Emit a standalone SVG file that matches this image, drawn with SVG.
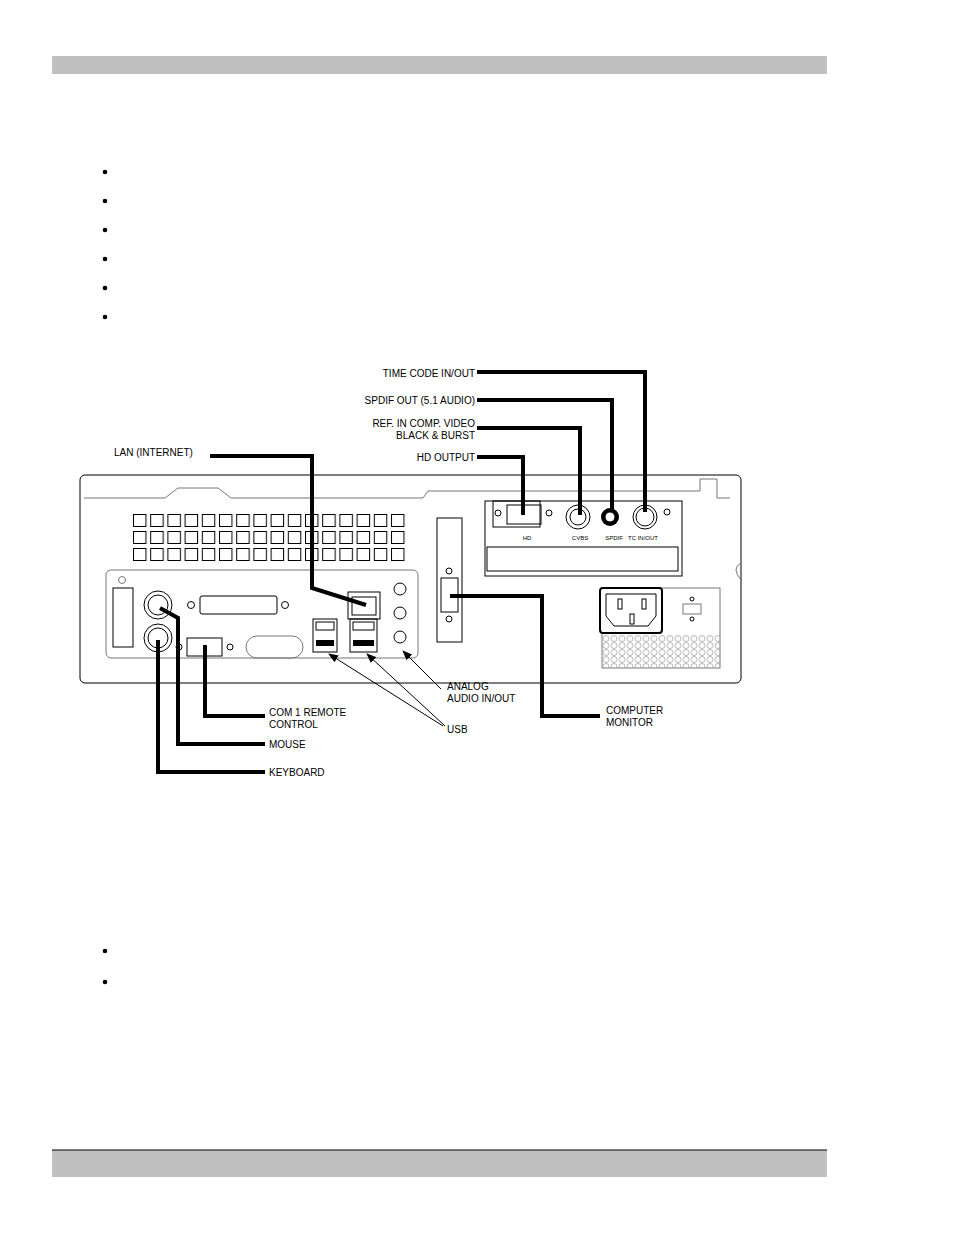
<svg xmlns="http://www.w3.org/2000/svg" width="954" height="1235" viewBox="0 0 954 1235">
<style>
text{font-family:"Liberation Sans",Arial,sans-serif;font-size:10px;fill:#000}
.s{font-size:6px}
.o{fill:none;stroke:#000;stroke-width:1}
.g{fill:none;stroke:#777;stroke-width:1}
.w{fill:none;stroke:#000;stroke-width:4}
.t{fill:none;stroke:#000;stroke-width:1}
</style>
<defs>
<marker id="a" markerWidth="10" markerHeight="8" refX="9" refY="4" orient="auto" markerUnits="userSpaceOnUse"><path d="M0,0 L10,4 L0,8 z" fill="#000"/></marker>
<pattern id="vent" width="17.2" height="17" patternUnits="userSpaceOnUse" x="133" y="514"><rect x="0.5" y="0.5" width="12.5" height="12" fill="#fff" stroke="#000"/></pattern>
<pattern id="holes" width="8" height="7" patternUnits="userSpaceOnUse" x="602" y="635"><circle cx="4" cy="3.5" r="3" fill="none" stroke="#999" stroke-width="0.7"/></pattern>
</defs>
<rect x="52" y="56" width="775" height="18" fill="#c0c0c0"/>
<rect x="52" y="1150" width="775" height="27" fill="#c0c0c0"/>
<line x1="52" y1="1150" x2="827" y2="1150" stroke="#000"/>
<g id="bullets" fill="#000">
<circle cx="105" cy="172" r="2.3"/><circle cx="105" cy="201" r="2.3"/><circle cx="105" cy="230" r="2.3"/><circle cx="105" cy="259" r="2.3"/><circle cx="105" cy="288" r="2.3"/><circle cx="105" cy="317" r="2.3"/><circle cx="105" cy="951" r="2.3"/><circle cx="105" cy="982" r="2.3"/>
</g>
<g id="chassis">
<rect x="80" y="475" width="661" height="208" rx="5" class="o"/>
<path d="M84,498 H165 L178,488 H218 L231,498 H423 L428,491 H700 V479 H717 V498 H730" class="g"/>
<path d="M741,563 Q731,568 741,580" class="g"/>
<rect x="133" y="514" width="275" height="51" fill="url(#vent)"/>
<rect x="106" y="570" width="312" height="88" rx="5" class="g"/>
<circle cx="122" cy="580" r="3.5" class="g"/>
<rect x="113" y="588" width="20" height="59" class="o"/>
<circle cx="158" cy="605" r="14" class="o"/><circle cx="158" cy="605" r="10" class="o"/>
<circle cx="158" cy="638" r="14" class="o"/><circle cx="158" cy="638" r="10" class="o"/>
<rect x="200" y="596" width="77" height="18" rx="2" class="o"/>
<circle cx="191" cy="605" r="3.5" class="o"/><circle cx="285" cy="605" r="3.5" class="o"/>
<rect x="187" y="638" width="35" height="18" class="o"/>
<circle cx="179" cy="647" r="3" class="o"/><circle cx="230" cy="647" r="3" class="o"/>
<rect x="246" y="636" width="57" height="22" rx="11" class="g"/>
<rect x="313" y="619" width="24" height="33" class="o"/><rect x="316" y="622" width="18" height="8" class="o"/><rect x="316" y="640" width="18" height="6" fill="#000"/>
<rect x="350" y="619" width="27" height="33" class="o"/><rect x="353" y="622" width="21" height="8" class="o"/><rect x="353" y="640" width="21" height="6" fill="#000"/>
<rect x="348" y="592" width="32" height="27" class="o"/><rect x="352" y="597" width="24" height="18" class="o"/>
<circle cx="400" cy="589" r="6" class="o"/><circle cx="400" cy="613" r="6" class="o"/><circle cx="400" cy="637" r="6" class="o"/>
<rect x="437" y="518" width="25" height="124" class="o"/>
<circle cx="449" cy="571" r="3" class="o"/><circle cx="449" cy="619" r="3" class="o"/>
<rect x="441" y="578" width="17" height="34" class="o"/>
<rect x="485" y="501" width="197" height="75" class="o"/>
<rect x="493" y="501" width="47" height="26" class="o"/>
<rect x="507" y="505" width="34" height="19" class="o"/>
<circle cx="498" cy="513" r="3" class="o"/><circle cx="549" cy="513" r="3" class="o"/>
<circle cx="578" cy="517" r="12" class="o"/><circle cx="578" cy="517" r="8" class="o"/>
<circle cx="610" cy="517" r="9" fill="#000"/><circle cx="610" cy="517" r="5" fill="#fff" stroke="#000"/>
<circle cx="645" cy="517" r="12" class="o"/><circle cx="645" cy="517" r="9" class="o"/>
<circle cx="667" cy="512" r="3" class="o"/>
<text x="527" y="540" class="s" text-anchor="middle">HD</text>
<text x="580" y="540" class="s" text-anchor="middle">CVBS</text>
<text x="614" y="540" class="s" text-anchor="middle">SPDIF</text>
<text x="643" y="540" class="s" text-anchor="middle">TC IN/OUT</text>
<rect x="487" y="547" width="191" height="24" class="o"/>
<rect x="602" y="588" width="118" height="80" class="g"/>
<rect x="602" y="635" width="118" height="33" fill="url(#holes)"/>
<rect x="600" y="588" width="62" height="45" rx="3" stroke="#000" stroke-width="2" fill="#fff"/>
<path d="M606,594 H656 V616 L648,626 H614 L606,616 Z" class="o"/>
<rect x="618" y="599" width="4" height="10" class="o"/><rect x="642" y="599" width="4" height="10" class="o"/><rect x="630" y="614" width="4" height="10" class="o"/>
<rect x="683" y="604" width="18" height="10" class="g"/>
<circle cx="692" cy="599" r="2" class="o"/><circle cx="692" cy="619" r="2" class="o"/>
</g>
<g id="connectors">
<polyline class="w" points="477,372 645,372 645,512"/>
<polyline class="w" points="477,400 612,400 612,512"/>
<polyline class="w" points="477,428 580,428 580,515"/>
<polyline class="w" points="477,457 523,457 523,515"/>
<polyline class="w" points="210,456 312,456 312,588 366,605"/>
<polyline class="w" points="450,596 542,596 542,716 600,716"/>
<polyline class="w" points="205,645 205,716 265,716"/>
<polyline class="w" points="160,608 178,618 178,744 265,744"/>
<polyline class="w" points="158,640 158,772 265,772"/>
<line class="t" x1="443" y1="726" x2="329" y2="654" marker-end="url(#a)"/>
<line class="t" x1="445" y1="726" x2="367" y2="654" marker-end="url(#a)"/>
<line class="t" x1="441" y1="689" x2="403" y2="651" marker-end="url(#a)"/>
</g>
<g id="labels">
<text x="475" y="377" text-anchor="end">TIME CODE IN/OUT</text>
<text x="475" y="404" text-anchor="end">SPDIF OUT (5.1 AUDIO)</text>
<text x="475" y="427" text-anchor="end">REF. IN COMP. VIDEO</text>
<text x="475" y="439" text-anchor="end">BLACK &amp; BURST</text>
<text x="475" y="461" text-anchor="end">HD OUTPUT</text>
<text x="114" y="456">LAN (INTERNET)</text>
<text x="447" y="690">ANALOG</text>
<text x="447" y="702">AUDIO IN/OUT</text>
<text x="447" y="733">USB</text>
<text x="606" y="714">COMPUTER</text>
<text x="606" y="726">MONITOR</text>
<text x="269" y="716">COM 1 REMOTE</text>
<text x="269" y="728">CONTROL</text>
<text x="269" y="748">MOUSE</text>
<text x="269" y="776">KEYBOARD</text>
</g>
</svg>
